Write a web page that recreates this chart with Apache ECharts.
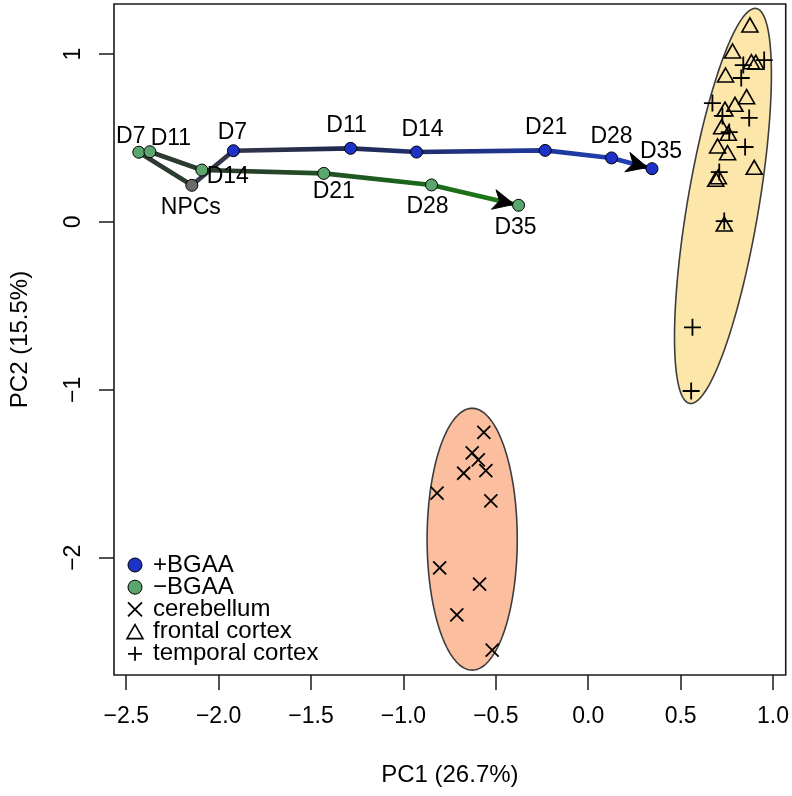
<!DOCTYPE html>
<html>
<head>
<meta charset="utf-8">
<script src="https://cdn.jsdelivr.net/npm/echarts@6/dist/echarts.min.js"></script>
<style>
html,body{margin:0;padding:0;background:#fff;}
#main{width:792px;height:796px;}
</style>
</head>
<body>
<div id="main"></div>
<script>
// ---------------- DATA ----------------
const days = ['D7', 'D11', 'D14', 'D21', 'D28', 'D35'];
const npcsPC1 = -2.145;
const npcsPC2 = 0.218;
const plusBGAA_PC1 = [-1.920, -1.286, -0.929, -0.233, 0.126, 0.345];
const plusBGAA_PC2 = [0.424, 0.438, 0.416, 0.426, 0.381, 0.317];
const minusBGAA_PC1 = [-2.432, -2.372, -2.091, -1.431, -0.848, -0.377];
const minusBGAA_PC2 = [0.415, 0.418, 0.309, 0.289, 0.220, 0.099];
const cerebellumPC1 = [-0.565, -0.628, -0.595, -0.674, -0.554, -0.818, -0.527, -0.804, -0.588, -0.711, -0.520];
const cerebellumPC2 = [-1.253, -1.375, -1.418, -1.497, -1.482, -1.616, -1.662, -2.060, -2.158, -2.341, -2.550];
const frontalPC1 = [0.875, 0.781, 0.883, 0.907, 0.743, 0.857, 0.794, 0.740, 0.722, 0.758, 0.700, 0.754, 0.898, 0.690, 0.704, 0.736];
const frontalPC2 = [1.173, 1.018, 0.954, 0.951, 0.875, 0.746, 0.700, 0.672, 0.567, 0.528, 0.452, 0.412, 0.325, 0.254, 0.269, -0.013];
const temporalPC1 = [0.952, 0.839, 0.828, 0.672, 0.871, 0.726, 0.763, 0.849, 0.709, 0.736, 0.564, 0.557];
const temporalPC2 = [0.964, 0.934, 0.857, 0.708, 0.619, 0.631, 0.535, 0.446, 0.297, 0.005, -0.628, -1.007];
// confidence ellipses: centre and two conjugate semi-axis vectors (data units)
const ellipseNames = ['cortex', 'cerebellum'];
const ellipseCX = [0.729, -0.628];
const ellipseCY = [0.095, -1.890];
const ellipseUX = [0.180, 0.0];
const ellipseUY = [1.176, 0.7796];
const ellipseVX = [0.1906, 0.2439];
const ellipseVY = [-0.0357, 0.0];
const xTicks = [-2.5, -2.0, -1.5, -1.0, -0.5, 0.0, 0.5, 1.0];
const xTickLabels = ['\u22122.5', '\u22122.0', '\u22121.5', '\u22121.0', '\u22120.5', '0.0', '0.5', '1.0'];
const yTicks = [-2, -1, 0, 1];
const yTickLabels = ['\u22122', '\u22121', '0', '1'];
const legendNames = ['+BGAA', '\u2212BGAA', 'cerebellum', 'frontal cortex', 'temporal cortex'];

// ---------------- STYLE ----------------
const FONT = 'Liberation Sans, Arial, Helvetica, sans-serif';
const FS_LABEL = 23;
const FS_TICK = 23;
const FS_TITLE = 24;
const FS_LEGEND = 24;
const blueFill = '#1f32c8';
const greenFill = '#5aa66c';
const grayFill = '#6a6a6a';
const crossPath = 'path://M0,0L10,10M10,0L0,10';
const plusPath = 'path://M5,0L5,10M0,5L10,5';
// label offsets [dx, dy] in px relative to the point
const plusLabelOff = [[-1, -18], [-4, -23], [6, -22], [1, -23], [0, -21], [9, -17]];
const minusLabelOff = [[-8, -16], [21, -13], [26, 7], [10, 18], [-4, 22], [-3, 22]];
const npcsLabelOff = [-1, 22];

const xMin = -2.5662, xMax = 1.0687;
const yMin = -2.6986, yMax = 1.2978;

function pts(xs, ys) { return xs.map((x, i) => [x, ys[i]]); }

const plusTraj = [[npcsPC1, npcsPC2]].concat(pts(plusBGAA_PC1, plusBGAA_PC2));
const minusTraj = [[npcsPC1, npcsPC2]].concat(pts(minusBGAA_PC1, minusBGAA_PC2));

const labelBase = { color: '#000', fontSize: FS_LABEL, fontFamily: FONT, textBorderWidth: 0, opacity: 1 };

function labelled(xs, ys, offs) {
  return xs.map((x, i) => ({
    value: [x, ys[i]],
    name: days[i],
    label: Object.assign({ show: true, position: 'inside', offset: offs[i], formatter: days[i] }, labelBase)
  }));
}

const chart = echarts.init(document.getElementById('main'), null, { renderer: 'canvas' });

const option = {
  animation: false,
  backgroundColor: '#fff',
  grid: { left: 113, right: 4, top: 4, bottom: 121, show: true, borderColor: '#1a1a1a', borderWidth: 1.6, backgroundColor: 'transparent' },
  xAxis: {
    type: 'value', min: xMin, max: xMax,
    axisLine: { show: false, onZero: false },
    splitLine: { show: false },
    axisTick: { show: true, inside: false, length: 15, customValues: xTicks, lineStyle: { color: '#1a1a1a', width: 1.5 } },
    axisLabel: { customValues: xTicks, margin: 30, color: '#000', fontSize: FS_TICK, fontFamily: FONT,
      formatter: v => { const i = xTicks.findIndex(t => Math.abs(t - v) < 1e-6); return i >= 0 ? xTickLabels[i] : ''; } },
    name: 'PC1 (26.7%)', nameLocation: 'middle', nameGap: 88,
    nameTextStyle: { color: '#000', fontSize: FS_TITLE, fontFamily: FONT }
  },
  yAxis: {
    type: 'value', min: yMin, max: yMax,
    axisLine: { show: false, onZero: false },
    splitLine: { show: false },
    axisTick: { show: true, inside: false, length: 15, customValues: yTicks, lineStyle: { color: '#1a1a1a', width: 1.5 } },
    axisLabel: { customValues: yTicks, margin: 29, rotate: 90, color: '#000', fontSize: FS_TICK, fontFamily: FONT,
      formatter: v => { const i = yTicks.findIndex(t => Math.abs(t - v) < 1e-6); return i >= 0 ? yTickLabels[i] : ''; } },
    name: 'PC2 (15.5%)', nameLocation: 'middle', nameGap: 82, nameRotate: 90,
    nameTextStyle: { color: '#000', fontSize: FS_TITLE, fontFamily: FONT }
  },
  legend: {
    orient: 'vertical', left: 120.5, top: 548, itemWidth: 16, itemHeight: 14, itemGap: -1.8,
    selectedMode: false,
    textStyle: { color: '#000', fontSize: FS_LEGEND, fontFamily: FONT, lineHeight: 22.3, padding: [0, 0, 0, 5] },
    data: [
      { name: legendNames[0], icon: 'circle', itemStyle: { color: blueFill, borderColor: '#000', borderWidth: 1, opacity: 1 } },
      { name: legendNames[1], icon: 'circle', itemStyle: { color: greenFill, borderColor: '#000', borderWidth: 1, opacity: 1 } },
      { name: legendNames[2], icon: crossPath, itemStyle: { color: 'none', borderColor: '#000', borderWidth: 1.8, opacity: 1 } },
      { name: legendNames[3], icon: 'triangle', itemStyle: { color: 'rgba(0,0,0,0)', borderColor: '#000', borderWidth: 1.6, opacity: 1 } },
      { name: legendNames[4], icon: plusPath, itemStyle: { color: 'none', borderColor: '#000', borderWidth: 1.8, opacity: 1 } }
    ]
  },
  series: [
    {
      type: 'custom', name: 'ellipses', silent: true, z: 1,
      data: ellipseNames.map((n, i) => [ellipseCX[i], ellipseCY[i], ellipseUX[i], ellipseUY[i], ellipseVX[i], ellipseVY[i]]),
      encode: { x: 0, y: 1 },
      renderItem: function (params, api) {
        const cx = api.value(0), cy = api.value(1), ux = api.value(2), uy = api.value(3), vx = api.value(4), vy = api.value(5);
        const p = [];
        for (let k = 0; k < 180; k++) {
          const t = 2 * Math.PI * k / 180;
          p.push(api.coord([cx + ux * Math.cos(t) + vx * Math.sin(t), cy + uy * Math.cos(t) + vy * Math.sin(t)]));
        }
        const fills = ['#fde6aa', '#fbbf9f'];
        return { type: 'polygon', shape: { points: p }, style: { fill: fills[params.dataIndex], stroke: '#3d3d3d', lineWidth: 1.6 } };
      }
    },
    {
      type: 'line', name: 'plusLine', data: plusTraj, showSymbol: false, silent: true, z: 3,
      lineStyle: { width: 4.6, cap: 'round', join: 'round', opacity: 1,
        color: new echarts.graphic.LinearGradient(0, 0, 1, 0, [
          { offset: 0, color: '#383c48' }, { offset: 0.3, color: '#222a4c' }, { offset: 0.7, color: '#1e3593' }, { offset: 1, color: '#2142b8' }]) }
    },
    {
      type: 'line', name: 'minusLine', data: minusTraj, showSymbol: false, silent: true, z: 3,
      lineStyle: { width: 4.6, cap: 'round', join: 'round', opacity: 1,
        color: new echarts.graphic.LinearGradient(0, 0, 1, 0, [
          { offset: 0, color: '#2f3832' }, { offset: 0.3, color: '#27402a' }, { offset: 0.65, color: '#1d5e1d' }, { offset: 1, color: '#1a7e16' }]) }
    },
    {
      type: 'custom', name: 'arrows', silent: true, z: 4,
      data: [
        [plusBGAA_PC1[4], plusBGAA_PC2[4], plusBGAA_PC1[5], plusBGAA_PC2[5]],
        [minusBGAA_PC1[4], minusBGAA_PC2[4], minusBGAA_PC1[5], minusBGAA_PC2[5]]
      ],
      encode: { x: [0, 2], y: [1, 3] },
      renderItem: function (params, api) {
        const a = api.coord([api.value(0), api.value(1)]);
        const b = api.coord([api.value(2), api.value(3)]);
        let dx = b[0] - a[0], dy = b[1] - a[1];
        const L = Math.sqrt(dx * dx + dy * dy); dx /= L; dy /= L;
        const nx = -dy, ny = dx;
        const tip = [b[0] - dx * 4.5, b[1] - dy * 4.5];
        const base = [tip[0] - dx * 21, tip[1] - dy * 21];
        const notch = [tip[0] - dx * 15, tip[1] - dy * 15];
        const c1 = [base[0] + nx * 10, base[1] + ny * 10];
        const c2 = [base[0] - nx * 10, base[1] - ny * 10];
        return { type: 'polygon', shape: { points: [tip, c1, notch, c2] }, style: { fill: '#000', stroke: '#000', lineWidth: 1 } };
      }
    },
    {
      type: 'scatter', name: 'NPCs', z: 5, silent: true, symbol: 'circle', symbolSize: 12,
      itemStyle: { color: grayFill, borderColor: '#000', borderWidth: 1, opacity: 1 },
      label: Object.assign({ show: true, position: 'inside', offset: npcsLabelOff, formatter: 'NPCs' }, labelBase),
      data: [[npcsPC1, npcsPC2]]
    },
    {
      type: 'scatter', name: legendNames[0], z: 5, silent: true, symbol: 'circle', symbolSize: 12,
      itemStyle: { color: blueFill, borderColor: '#000', borderWidth: 1, opacity: 1 },
      label: Object.assign({ show: true }, labelBase),
      data: labelled(plusBGAA_PC1, plusBGAA_PC2, plusLabelOff)
    },
    {
      type: 'scatter', name: legendNames[1], z: 5, silent: true, symbol: 'circle', symbolSize: 12,
      itemStyle: { color: greenFill, borderColor: '#000', borderWidth: 1, opacity: 1 },
      label: Object.assign({ show: true }, labelBase),
      data: labelled(minusBGAA_PC1, minusBGAA_PC2, minusLabelOff)
    },
    {
      type: 'scatter', name: legendNames[2], z: 5, silent: true, symbol: crossPath, symbolSize: 13,
      itemStyle: { color: 'none', borderColor: '#000', borderWidth: 1.8, opacity: 1 },
      data: pts(cerebellumPC1, cerebellumPC2)
    },
    {
      type: 'scatter', name: legendNames[3], z: 5, silent: true, symbol: 'triangle', symbolSize: [16, 14],
      itemStyle: { color: 'rgba(0,0,0,0)', borderColor: '#000', borderWidth: 1.6, opacity: 1 },
      data: pts(frontalPC1, frontalPC2)
    },
    {
      type: 'scatter', name: legendNames[4], z: 5, silent: true, symbol: plusPath, symbolSize: 17,
      itemStyle: { color: 'none', borderColor: '#000', borderWidth: 1.8, opacity: 1 },
      data: pts(temporalPC1, temporalPC2)
    }
  ]
};
chart.setOption(option);
</script>
</body>
</html>
